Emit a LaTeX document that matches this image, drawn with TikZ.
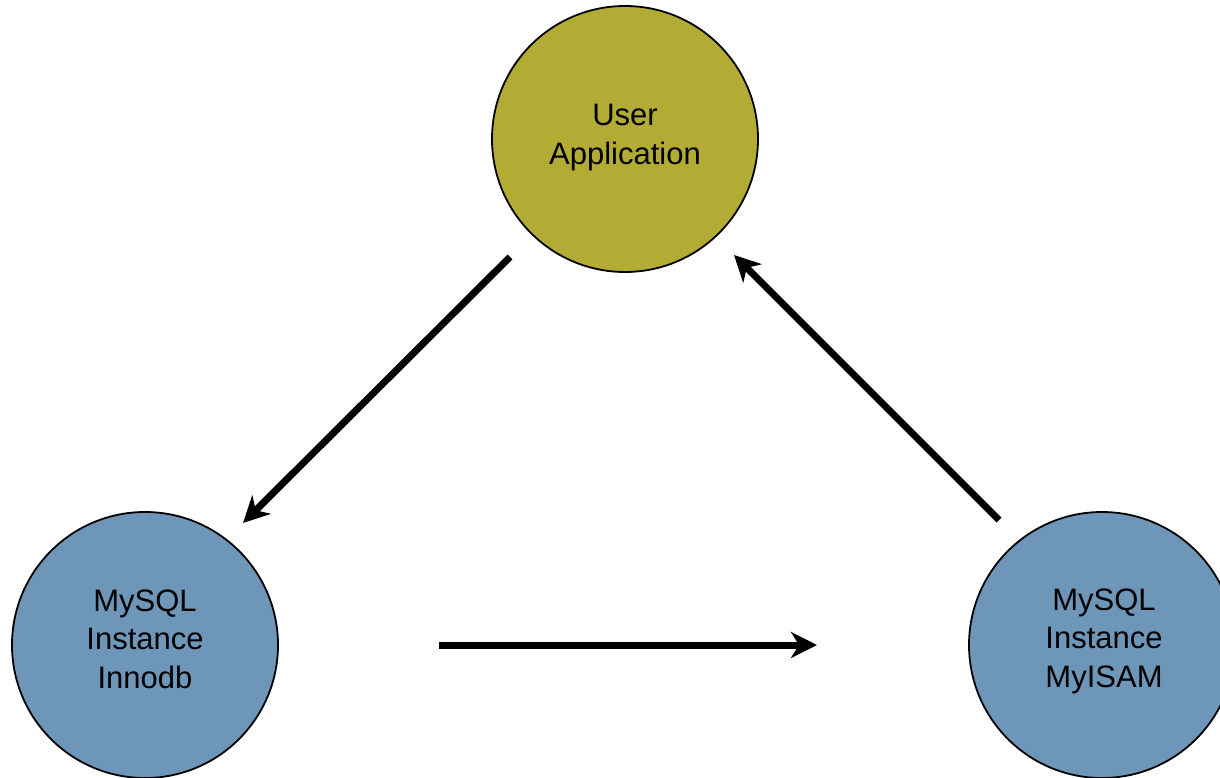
\documentclass[tikz,border=0pt]{standalone}
\usepackage{fontspec}
\setmainfont{Liberation Sans}
\usetikzlibrary{arrows.meta}
\definecolor{olivefill}{HTML}{B2AC34}
\definecolor{bluefill}{HTML}{6D96B8}
\tikzset{
  circ/.style={circle, draw=black, line width=1.8pt, minimum size=266pt, inner sep=0pt},
  lbl/.style={align=center, inner sep=0pt, font=\fontsize{31}{38.5}\selectfont},
  arr/.style={line width=7pt, -{Stealth[length=26pt, width=26pt, inset=8pt]}}
}
\begin{document}
\begin{tikzpicture}[x=1pt,y=-1pt]
\useasboundingbox (0,0) rectangle (1220,778);
\node[circ, fill=olivefill] (user) at (625,139) {};
\node[circ, fill=bluefill] (inno) at (145,645) {};
\node[circ, fill=bluefill] (myisam) at (1102,645) {};
\node[lbl] (userl) at ([yshift=1.5pt]user.center) {User\\Application};
\node[lbl] (innol) at ([yshift=6pt]inno.center) {MySQL\\Instance\\Innodb};
\node[lbl] (myisaml) at ([xshift=2pt,yshift=4pt]myisam.center) {MySQL\\Instance\\MyISAM};
\coordinate (a1s) at (510,257);
\coordinate (a1e) at (243,523);
\coordinate (a2s) at (439,645);
\coordinate (a2e) at (817,645);
\coordinate (a3s) at (999,520);
\coordinate (a3e) at (734,255);
\draw[arr] (a1s) -- (a1e);
\draw[arr] (a2s) -- (a2e);
\draw[arr] (a3s) -- (a3e);
\end{tikzpicture}
\end{document}
